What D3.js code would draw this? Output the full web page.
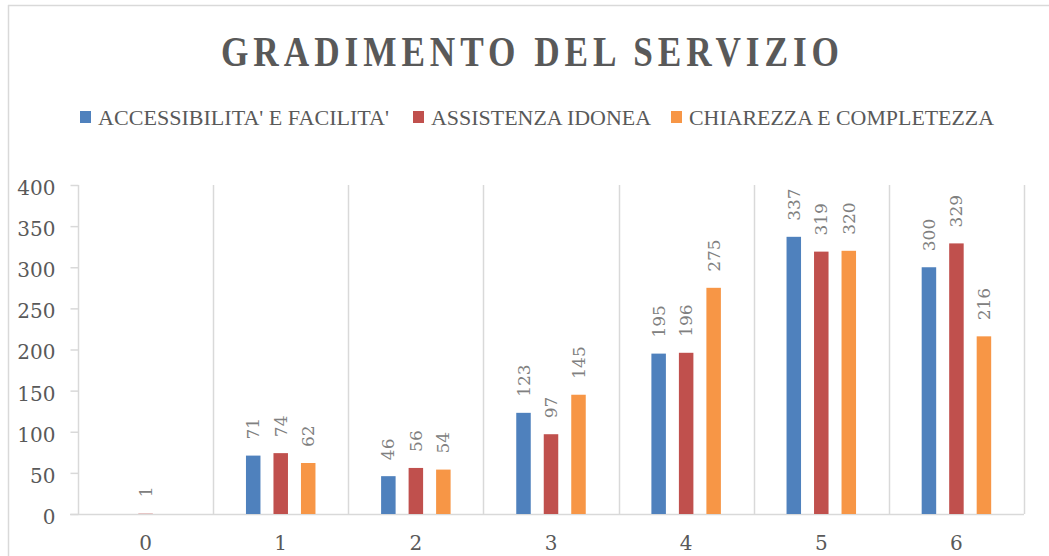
<!DOCTYPE html>
<html>
<head>
<meta charset="utf-8">
<script src="https://cdn.jsdelivr.net/npm/d3@7/dist/d3.min.js"></script>
<style>
  html, body { margin: 0; padding: 0; background: #fff; }
  svg { display: block; }
</style>
</head>
<body>
<svg id="chart" width="1049" height="556"></svg>
<script>
const categories = ["0", "1", "2", "3", "4", "5", "6"];
const seriesNames = ["ACCESSIBILITA' E FACILITA'", "ASSISTENZA IDONEA", "CHIAREZZA E COMPLETEZZA"];
const accessibilita = [null, 71, 46, 123, 195, 337, 300];
const assistenza = [1, 74, 56, 97, 196, 319, 329];
const chiarezza = [null, 62, 54, 145, 275, 320, 216];
const yTicks = [0, 50, 100, 150, 200, 250, 300, 350, 400];
const colors = ["#4f81bd", "#c0504d", "#f79646"];
const seriesValues = [accessibilita, assistenza, chiarezza];

const svg = d3.select("#chart");
const gridColor = "#d9d9d9";
const textColor = "#595959";

// chart border (top and left visible)
svg.append("line").attr("x1", 8).attr("x2", 1049).attr("y1", 5.5).attr("y2", 5.5)
  .attr("stroke", gridColor).attr("stroke-width", 1.5);
svg.append("line").attr("x1", 8.5).attr("x2", 8.5).attr("y1", 5).attr("y2", 556)
  .attr("stroke", gridColor).attr("stroke-width", 1.5);

// title (narrowed glyphs, wide letter spacing)
const titleScale = 0.84;
svg.append("g").attr("transform", "translate(221,66) scale(" + titleScale + ",1)")
  .append("text")
  .attr("x", 0).attr("y", 0)
  .attr("textLength", 618 / titleScale).attr("lengthAdjust", "spacing")
  .attr("font-family", "Liberation Serif, serif")
  .attr("font-weight", "bold").attr("font-size", 42)
  .attr("fill", textColor)
  .text("GRADIMENTO DEL SERVIZIO");

// legend
const legendItems = [
  { sq: 80, tx: 98, tw: 291 },
  { sq: 413, tx: 431, tw: 220 },
  { sq: 671, tx: 689, tw: 305 }
];
seriesNames.forEach((name, i) => {
  const it = legendItems[i];
  svg.append("rect").attr("x", it.sq).attr("y", 111).attr("width", 11).attr("height", 12)
    .attr("fill", colors[i]);
  svg.append("text").attr("x", it.tx).attr("y", 125)
    .attr("textLength", it.tw).attr("lengthAdjust", "spacingAndGlyphs")
    .attr("font-family", "Liberation Serif, serif").attr("font-size", 20)
    .attr("fill", textColor).text(name);
});

// scales
const x0 = d3.scaleBand().domain(categories).range([78, 1024]).paddingInner(0).paddingOuter(0);
const barStep = 27.5, barW = 14.5;
const pi = (barStep - barW) / barStep;
const groupW = barStep * (3 - pi);
const x1 = d3.scaleBand().domain(d3.range(3)).range([-groupW / 2, groupW / 2]).paddingInner(pi).paddingOuter(0);
const y = d3.scaleLinear().domain([0, 400]).range([514, 185]);

// vertical gridlines at category boundaries
const bounds = categories.map(c => x0(c)).concat([x0.range()[1]]);
svg.append("g").selectAll("line").data(bounds).join("line")
  .attr("x1", d => Math.round(d) + 0.5).attr("x2", d => Math.round(d) + 0.5)
  .attr("y1", y(400)).attr("y2", y(0))
  .attr("stroke", gridColor).attr("stroke-width", 1.5);

// y axis
const yAxis = d3.axisLeft(y).tickValues(yTicks).tickSize(8).tickPadding(15);
const gy = svg.append("g").attr("transform", "translate(78.5,0)").call(yAxis);
gy.select(".domain").remove();
gy.selectAll(".tick line").attr("stroke", gridColor).attr("stroke-width", 1.5);
gy.selectAll(".tick text")
  .attr("font-family", "DejaVu Serif, serif").attr("font-size", 20)
  .attr("fill", textColor).attr("dy", "0.47em").attr("x", -23);

// x axis
const xAxis = d3.axisBottom(x0).tickSize(0).tickPadding(0);
const gx = svg.append("g").attr("transform", "translate(0," + y(0) + ")").call(xAxis);
gx.select(".domain").remove();
gx.selectAll(".tick text")
  .attr("font-family", "DejaVu Serif, serif").attr("font-size", 20)
  .attr("fill", textColor).attr("dy", 0).attr("y", 36);
svg.append("line").attr("x1", 70).attr("x2", 1024).attr("y1", y(0) + 0.5).attr("y2", y(0) + 0.5)
  .attr("stroke", gridColor).attr("stroke-width", 1.5);

// bars
const barData = [];
categories.forEach((c, ci) => {
  seriesValues.forEach((vals, si) => {
    if (vals[ci] !== null && vals[ci] !== undefined) {
      barData.push({ c, si, v: vals[ci] });
    }
  });
});
const cx = d => x0(d.c) + x0.bandwidth() / 2 + x1(d.si);
svg.append("g").selectAll("rect").data(barData).join("rect")
  .attr("x", d => cx(d))
  .attr("y", d => y(d.v))
  .attr("width", x1.bandwidth())
  .attr("height", d => y(0) - y(d.v))
  .attr("fill", d => colors[d.si])
  .attr("fill-opacity", d => d.v < 5 ? 0.35 : 1);

// data labels
svg.append("g").selectAll("text").data(barData).join("text")
  .attr("transform", d => "translate(" + (cx(d) + x1.bandwidth() / 2 + 6) + "," + (y(d.v) - 16) + ") rotate(-90)")
  .attr("text-anchor", "start")
  .attr("font-family", "DejaVu Serif, serif").attr("font-size", 17)
  .attr("fill", "#808080")
  .text(d => d.v);
</script>
</body>
</html>
